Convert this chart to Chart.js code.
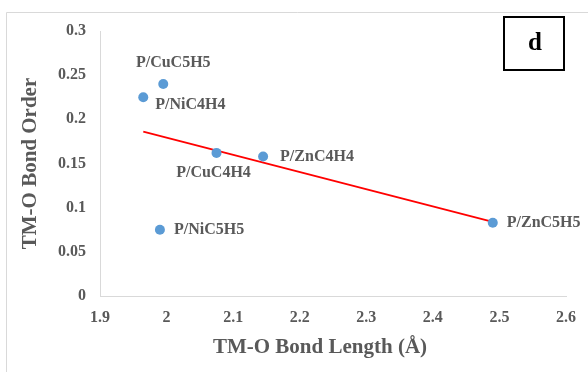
<!DOCTYPE html>
<html>
<head>
<meta charset="utf-8">
<script src="https://cdn.jsdelivr.net/npm/chart.js@4"></script>
<style>
html,body{margin:0;padding:0;background:#fff;}
#wrap{width:588px;height:372px;position:relative;}
</style>
</head>
<body>
<div id="wrap"><canvas id="c" width="588" height="372"></canvas></div>
<script>
// ---- data ----
const pointNames = ["P/CuC5H5", "P/NiC4H4", "P/CuC4H4", "P/ZnC4H4", "P/NiC5H5", "P/ZnC5H5"];
const bondLength = [1.995, 1.965, 2.075, 2.145, 1.99, 2.49];
const bondOrder  = [0.240, 0.225, 0.162, 0.158, 0.075, 0.083];
const trendX = [1.965, 2.49];
const trendY = [0.186, 0.084];
const xTicks = [1.9, 2, 2.1, 2.2, 2.3, 2.4, 2.5, 2.6];
const yTicks = [0, 0.05, 0.1, 0.15, 0.2, 0.25, 0.3];
const xTitle = "TM-O Bond Length (Å)";
const yTitle = "TM-O Bond Order";
const panelLetter = "d";

// label placement (style, not data): [dx, dy, align]
const labelPlacement = [
  [10, -21, "center"],
  [12, 8, "left"],
  [-3, 20, "center"],
  [17, 0, "left"],
  [14, 0, "left"],
  [14, 0, "left"]
];

const FONT = '"Liberation Serif", "Times New Roman", serif';
const GREY = '#595959';

const decor = {
  id: 'decor',
  beforeDraw(chart) {
    const ctx = chart.ctx;
    ctx.save();
    ctx.fillStyle = '#fff';
    ctx.fillRect(0, 0, chart.width, chart.height);
    ctx.strokeStyle = '#d9d9d9';
    ctx.lineWidth = 1;
    ctx.beginPath();
    ctx.moveTo(6.5, chart.height + 5);
    ctx.lineTo(6.5, 12.5);
    ctx.lineTo(chart.width + 5, 12.5);
    ctx.stroke();
    ctx.restore();
  },
  afterDraw(chart) {
    const ctx = chart.ctx;
    const meta = chart.getDatasetMeta(1);
    ctx.save();
    ctx.font = 'bold 16px ' + FONT;
    ctx.fillStyle = GREY;
    ctx.textBaseline = 'middle';
    meta.data.forEach((pt, i) => {
      const p = labelPlacement[i];
      ctx.textAlign = p[2];
      ctx.fillText(pointNames[i], pt.x + p[0], pt.y + p[1]);
    });
    // x axis title
    ctx.font = 'bold 21px ' + FONT;
    ctx.textAlign = 'center';
    ctx.fillText(xTitle, 320, 348);
    // panel letter box
    ctx.strokeStyle = '#000';
    ctx.lineWidth = 2;
    ctx.strokeRect(504, 17, 60, 53);
    ctx.fillStyle = '#000';
    ctx.font = 'bold 25px ' + FONT;
    ctx.fillText(panelLetter, 535, 44);
    ctx.restore();
  }
};

const fmt = v => String(+(+v).toFixed(2));

new Chart(document.getElementById('c'), {
  type: 'scatter',
  data: {
    datasets: [
      {
        label: 'trend',
        data: trendX.map((x, i) => ({x, y: trendY[i]})),
        showLine: true,
        borderColor: '#ff0000',
        borderWidth: 1.8,
        pointRadius: 0,
        pointHoverRadius: 0,
        fill: false,
        order: 2
      },
      {
        label: 'TM-O',
        data: bondLength.map((x, i) => ({x, y: bondOrder[i]})),
        backgroundColor: '#5b9bd5',
        borderWidth: 0,
        pointRadius: 5,
        order: 1
      }
    ]
  },
  options: {
    responsive: false,
    animation: false,
    devicePixelRatio: 1,
    layout: { padding: { left: 0, top: 31, right: 22, bottom: 0 } },
    plugins: { legend: { display: false }, tooltip: { enabled: false } },
    scales: {
      x: {
        type: 'linear',
        min: xTicks[0], max: xTicks[xTicks.length - 1],
        afterBuildTicks: s => { s.ticks = xTicks.map(v => ({value: v})); },
        afterFit: s => { s.height = 76; },
        grid: { display: false, drawTicks: false },
        border: { display: true, color: '#d9d9d9', width: 1 },
        ticks: { padding: 12, color: GREY, font: { family: FONT, size: 16, weight: 'bold' }, callback: fmt, maxRotation: 0 }
      },
      y: {
        type: 'linear',
        min: yTicks[0], max: yTicks[yTicks.length - 1],
        afterBuildTicks: s => { s.ticks = yTicks.map(v => ({value: v})); },
        afterFit: s => { s.width = 100; },
        grid: { display: false, drawTicks: false },
        border: { display: true, color: '#d9d9d9', width: 1 },
        ticks: { padding: 14, color: GREY, font: { family: FONT, size: 16, weight: 'bold' }, callback: fmt },
        title: { display: true, text: yTitle, color: GREY, font: { family: FONT, size: 21, weight: 'bold' }, padding: { top: 18, bottom: 0 } }
      }
    }
  },
  plugins: [decor]
});
</script>
</body>
</html>
